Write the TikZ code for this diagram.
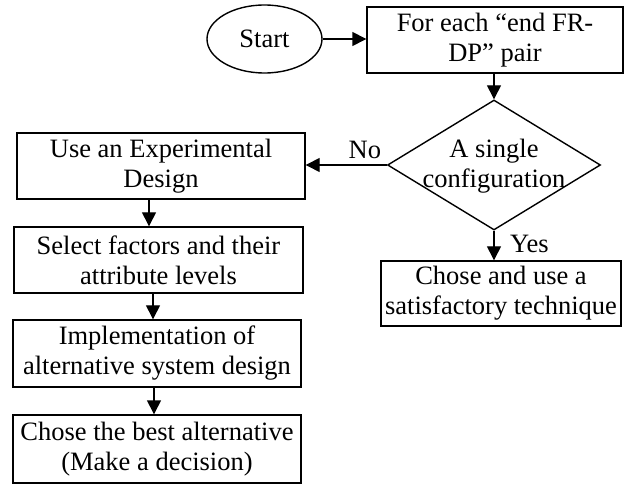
\documentclass[tikz,border=0pt]{standalone}
\usepackage{fontspec}
\setmainfont{Liberation Serif}
\usetikzlibrary{shapes.geometric,arrows.meta}
\begin{document}
\begin{tikzpicture}[x=1pt,y=-1pt,
  txt/.style={font=\fontsize{26.5}{30}\selectfont},
  box/.style={txt,draw,line width=1.4pt,rectangle,align=center,inner sep=0pt},
  arr/.style={line width=1.4pt,-{Triangle[length=14pt,width=14pt]}}]
\useasboundingbox (0,0) rectangle (624,486);
\node[txt,draw,line width=1.4pt,ellipse,inner sep=0pt,minimum width=115pt,minimum height=68pt] (start) at (264.5,39) {Start};
\node[box,minimum width=256pt,minimum height=66pt] (fr) at (495,40) {For each “end FR-\\DP” pair};
\node[draw,line width=1.4pt,diamond,inner sep=0pt,minimum width=213pt,minimum height=130pt] (dec) at (494,165) {};
\node[txt,align=center] (dectext) at (494,166) {A single\\configuration};
\node[box,minimum width=288pt,minimum height=66pt] (use) at (161,166) {Use an Experimental\\Design};
\node[box,minimum width=289pt,minimum height=66pt] (sel) at (158.5,260) {Select factors and their\\attribute levels};
\node[box,minimum width=288pt,minimum height=67pt] (impl) at (157,353.5) {Implementation of\\alternative system design};
\node[box,minimum width=288pt,minimum height=68pt] (best) at (157,449) {Chose the best alternative\\(Make a decision)};
\node[box,minimum width=240pt,minimum height=65pt] (chose) at (501,293.5) {Chose and use a\\satisfactory technique};
\draw[arr] (start.east) -- (start.east -| fr.west);
\draw[arr] (fr.south -| dec.north) -- (dec.north);
\draw[arr] (dec.west) -- (dec.west -| use.east) node[txt,pos=0.27,anchor=base,yshift=6pt] {No};
\draw[arr] (dec.south) -- (dec.south |- chose.north) node[txt,pos=0.74,anchor=base west,xshift=12pt] {Yes};
\draw[arr] ([xshift=-12pt]use.south) -- ([xshift=-9.5pt]sel.north);
\draw[arr] ([xshift=-5.5pt]sel.south) -- ([xshift=-4pt]impl.north);
\draw[arr] ([xshift=-3pt]impl.south) -- ([xshift=-3pt]best.north);
\end{tikzpicture}
\end{document}
